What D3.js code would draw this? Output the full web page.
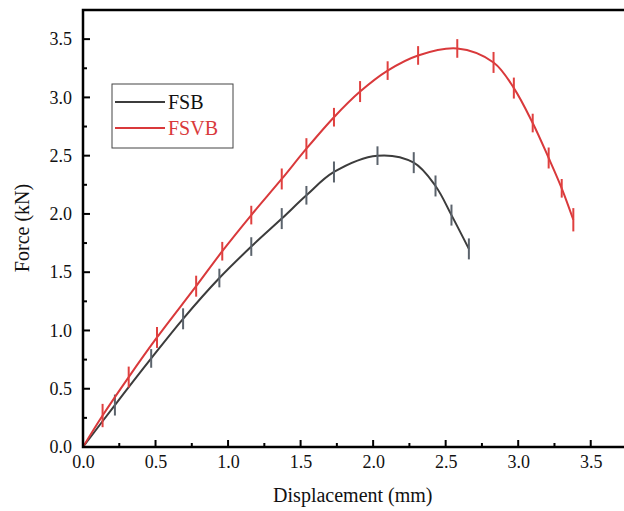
<!DOCTYPE html>
<html>
<head>
<meta charset="utf-8">
<script src="https://cdnjs.cloudflare.com/ajax/libs/d3/7.8.5/d3.min.js"></script>
<style>
  body { margin: 0; background: #fff; }
  svg text { font-family: "Liberation Serif", "Times New Roman", "DejaVu Serif", serif; }
</style>
</head>
<body>
<script>
// displacement (mm) / force (kN), error = half bar length
var fsbX   = [0, 0.22, 0.47, 0.69, 0.94, 1.16, 1.37, 1.54, 1.73, 2.03, 2.28, 2.43, 2.54, 2.66];
var fsbY   = [0, 0.36, 0.76, 1.10, 1.45, 1.72, 1.96, 2.16, 2.36, 2.50, 2.44, 2.24, 1.99, 1.70];
var fsbErr = [0, 0.09, 0.08, 0.09, 0.08, 0.08, 0.09, 0.08, 0.09, 0.08, 0.09, 0.09, 0.09, 0.09];

var fsvbX   = [0, 0.135, 0.315, 0.51, 0.78, 0.96, 1.16, 1.37, 1.54, 1.73, 1.91, 2.10, 2.31, 2.58, 2.83, 2.97, 3.10, 3.21, 3.30, 3.38];
var fsvbY   = [0, 0.27, 0.60, 0.94, 1.38, 1.68, 1.99, 2.30, 2.56, 2.83, 3.05, 3.23, 3.36, 3.42, 3.30, 3.08, 2.78, 2.48, 2.22, 1.95];
var fsvbErr = [0, 0.10, 0.09, 0.09, 0.09, 0.08, 0.08, 0.09, 0.09, 0.08, 0.09, 0.08, 0.08, 0.08, 0.09, 0.09, 0.08, 0.09, 0.08, 0.10];

var xTicks = [0, 0.5, 1.0, 1.5, 2.0, 2.5, 3.0, 3.5];
var yTicks = [0, 0.5, 1.0, 1.5, 2.0, 2.5, 3.0, 3.5];
var xMinor = [0.25, 0.75, 1.25, 1.75, 2.25, 2.75, 3.25];
var yMinor = [0.25, 0.75, 1.25, 1.75, 2.25, 2.75, 3.25];

var seriesNames = ["FSB", "FSVB"];

var width = 624, height = 511;
var margin = {top: 10, left: 83, bottom: 64};
var plotW = 544, plotH = height - margin.top - margin.bottom;
var serif = "'Liberation Serif', 'Times New Roman', serif";

var svg = d3.select("body").append("svg")
  .attr("width", width)
  .attr("height", height);

var x = d3.scaleLinear().domain([0, 3.75]).range([0, plotW]);
var y = d3.scaleLinear().domain([0, 3.75]).range([plotH, 0]);

var g = svg.append("g")
  .attr("transform", "translate(" + margin.left + "," + margin.top + ")");

//series
var series = [
  {name: seriesNames[0], xs: fsbX, ys: fsbY, err: fsbErr, line: "#3c3c3c", bar: "#5b636c"},
  {name: seriesNames[1], xs: fsvbX, ys: fsvbY, err: fsvbErr, line: "#d9393b", bar: "#e0403f"}
];

var line = d3.line()
  .x(d => x(d[0]))
  .y(d => y(d[1]))
  .curve(d3.curveCatmullRom.alpha(0.5));

series.forEach(function(s) {
  var pts = s.xs.map((v, i) => [v, s.ys[i], s.err[i]]);
  g.append("path")
    .datum(pts)
    .attr("fill", "none")
    .attr("stroke", s.line)
    .attr("stroke-width", 2)
    .attr("d", line);
  g.selectAll(null)
    .data(pts.filter(d => d[2] > 0))
    .enter().append("line")
    .attr("x1", d => x(d[0]))
    .attr("x2", d => x(d[0]))
    .attr("y1", d => y(d[1] - d[2]))
    .attr("y2", d => y(d[1] + d[2]))
    .attr("stroke", s.bar)
    .attr("stroke-width", 2);
});

// frame
g.append("rect")
  .attr("x", 0).attr("y", 0)
  .attr("width", plotW).attr("height", plotH)
  .attr("fill", "none")
  .attr("stroke", "#000")
  .attr("stroke-width", 2.5);

//tick labels
g.append("g")
  .attr("class", "ax")
  .attr("transform", "translate(0," + plotH + ")")
  .call(d3.axisBottom(x).tickValues(xTicks).tickSize(0).tickPadding(8).tickFormat(d3.format(".1f")));
g.append("g")
  .attr("class", "ax")
  .call(d3.axisLeft(y).tickValues(yTicks).tickSize(0).tickPadding(11).tickFormat(d3.format(".1f")));
g.selectAll(".ax .domain").remove();
g.selectAll(".ax").attr("font-family", serif).attr("font-size", 18);
g.selectAll(".ax .tick text").attr("fill", "#111");

//tick marks, pointing inward
var tk = g.append("g").attr("stroke", "#000").attr("stroke-width", 2);
tk.selectAll(null)
  .data(xTicks.map(v => [v, 7]).concat(xMinor.map(v => [v, 4])))
  .enter().append("line")
  .attr("x1", d => x(d[0])).attr("x2", d => x(d[0]))
  .attr("y1", plotH).attr("y2", d => plotH - d[1]);
tk.selectAll(null)
  .data(yTicks.map(v => [v, 7]).concat(yMinor.map(v => [v, 4])))
  .enter().append("line")
  .attr("y1", d => y(d[0])).attr("y2", d => y(d[0]))
  .attr("x1", 0).attr("x2", d => d[1]);

//titles
svg.append("text")
  .attr("x", margin.left + x(1.86))
  .attr("y", 502)
  .attr("text-anchor", "middle")
  .attr("font-family", serif)
  .attr("font-size", 20)
  .attr("fill", "#111")
  .text("Displacement (mm)");

svg.append("text")
  .attr("transform", "translate(29,228) rotate(-90)")
  .attr("text-anchor", "middle")
  .attr("font-family", serif)
  .attr("font-size", 20)
  .attr("fill", "#111")
  .text("Force (kN)");

//legend
var leg = svg.append("g").attr("transform", "translate(112,84)");
leg.append("rect")
  .attr("width", 121).attr("height", 64)
  .attr("fill", "#fff")
  .attr("stroke", "#444")
  .attr("stroke-width", 1);
series.forEach(function(s, i) {
  var ly = 18 + i * 26;
  leg.append("line")
    .attr("x1", 3).attr("x2", 53)
    .attr("y1", ly).attr("y2", ly)
    .attr("stroke", s.line)
    .attr("stroke-width", 2);
  leg.append("text")
    .attr("x", 56).attr("y", ly + 7)
    .attr("font-family", serif)
    .attr("font-size", 20)
    .attr("fill", i === 0 ? "#111" : s.line)
    .text(s.name);
});
</script>
</body>
</html>
